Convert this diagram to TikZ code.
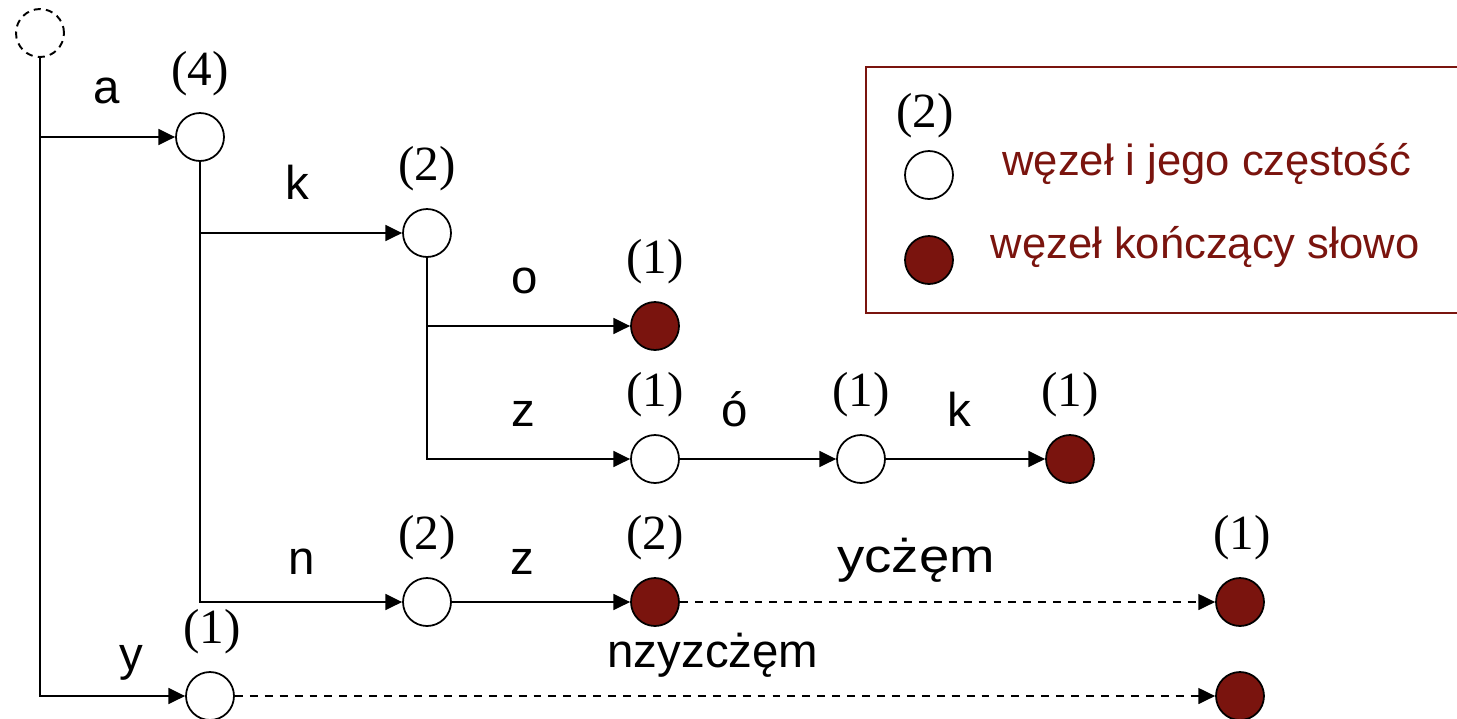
\documentclass[tikz,border=0pt]{standalone}
\usepackage{fontspec}
\setmainfont{Liberation Serif}
\newfontfamily\arial{Liberation Sans}
\usetikzlibrary{arrows.meta}
\definecolor{maroon}{HTML}{7A140E}
\tikzset{
  trienode/.style={circle,draw=black,line width=1pt,fill=white,minimum size=0.96cm,inner sep=0pt},
  wordend/.style={trienode,fill=maroon},
  rootnode/.style={circle,draw=black,line width=1.1pt,dash pattern=on 4pt off 3pt,minimum size=0.96cm,inner sep=0pt},
  edge/.style={line width=1.15pt,-{Triangle[length=9.5pt,width=9pt]}},
  tail/.style={edge,line width=0.95pt,dash pattern=on 4.5pt off 4pt},
  freq/.style={font=\fontsize{28}{28}\selectfont,anchor=base,inner sep=0pt},
  sym/.style={font=\arial\fontsize{27}{27}\selectfont,anchor=base,inner sep=0pt},
  legendtext/.style={font=\arial\fontsize{24.8}{25}\selectfont,text=maroon,anchor=base,inner sep=0pt},
}
\begin{document}
\begin{tikzpicture}[x=0.02cm,y=-0.02cm]
\useasboundingbox (0,0) rectangle (1457,718);

% legend
\draw[maroon,line width=1.1pt] (1470,67) -- (866,67) -- (866,313) -- (1470,313);
\node[freq] (lgfreq) at (925,127) {(2)};
\node[trienode] (lgnode) at (929,175) {};
\node[wordend] (lgend) at (929,260) {};
\node[legendtext] (lgtxt1) at (1207,175) {węzeł i jego częstość};
\node[legendtext] (lgtxt2) at (1205,258) {węzeł kończący słowo};

% trie nodes
\node[rootnode] (root) at (40,33) {};
\node[trienode] (a) at (200,137) {};
\node[trienode] (ak) at (427,233) {};
\node[wordend] (ako) at (655,326) {};
\node[trienode] (akz) at (655,459) {};
\node[trienode] (akzo) at (861,459) {};
\node[wordend] (akzok) at (1070,459) {};
\node[trienode] (an) at (427,602) {};
\node[wordend] (anz) at (655,602) {};
\node[wordend] (anzend) at (1240,602) {};
\node[trienode] (y) at (210,696) {};
\node[wordend] (yend) at (1240,696) {};

% frequencies
\node[freq] (fa) at (200,85) {(4)};
\node[freq] (fak) at (427,180) {(2)};
\node[freq] (fako) at (655,273) {(1)};
\node[freq] (fakz) at (655,406) {(1)};
\node[freq] (fakzo) at (861,406) {(1)};
\node[freq] (fakzok) at (1070,406) {(1)};
\node[freq] (fan) at (427,549) {(2)};
\node[freq] (fanz) at (655,549) {(2)};
\node[freq] (fanzend) at (1242,549) {(1)};
\node[freq] (fy) at (212,643) {(1)};

% connectors
\draw[edge] (root) |- (y);
\draw[edge] (root |- a) -- (a);
\draw[edge] (a) |- (an);
\draw[edge] (a |- ak) -- (ak);
\draw[edge] (ak) |- (akz);
\draw[edge] (ak |- ako) -- (ako);
\draw[edge] (akz) -- (akzo);
\draw[edge] (akzo) -- (akzok);
\draw[edge] (an) -- (anz);
\draw[tail] (anz) -- (anzend);
\draw[tail] (y) -- (yend);

% edge symbols
\node[sym] (la) at (107,103) {a};
\node[sym] (lk) at (297,199) {k};
\node[sym] (lo) at (525,293) {o};
\node[sym] (lz) at (523,426) {z};
\node[sym] (loo) at (735,426) {ó};
\node[sym] (lkk) at (959,426) {k};
\node[sym] (ln) at (302,574) {n};
\node[sym] (lzz) at (522,574) {z};
\node[sym] (lrest) at (916,572) {\scalebox{1.15}[1]{ycżęm}};
\node[sym] (ly) at (131,670) {y};
\node[sym] (lyrest) at (713,667) {nzyzcżęm};
\end{tikzpicture}
\end{document}
